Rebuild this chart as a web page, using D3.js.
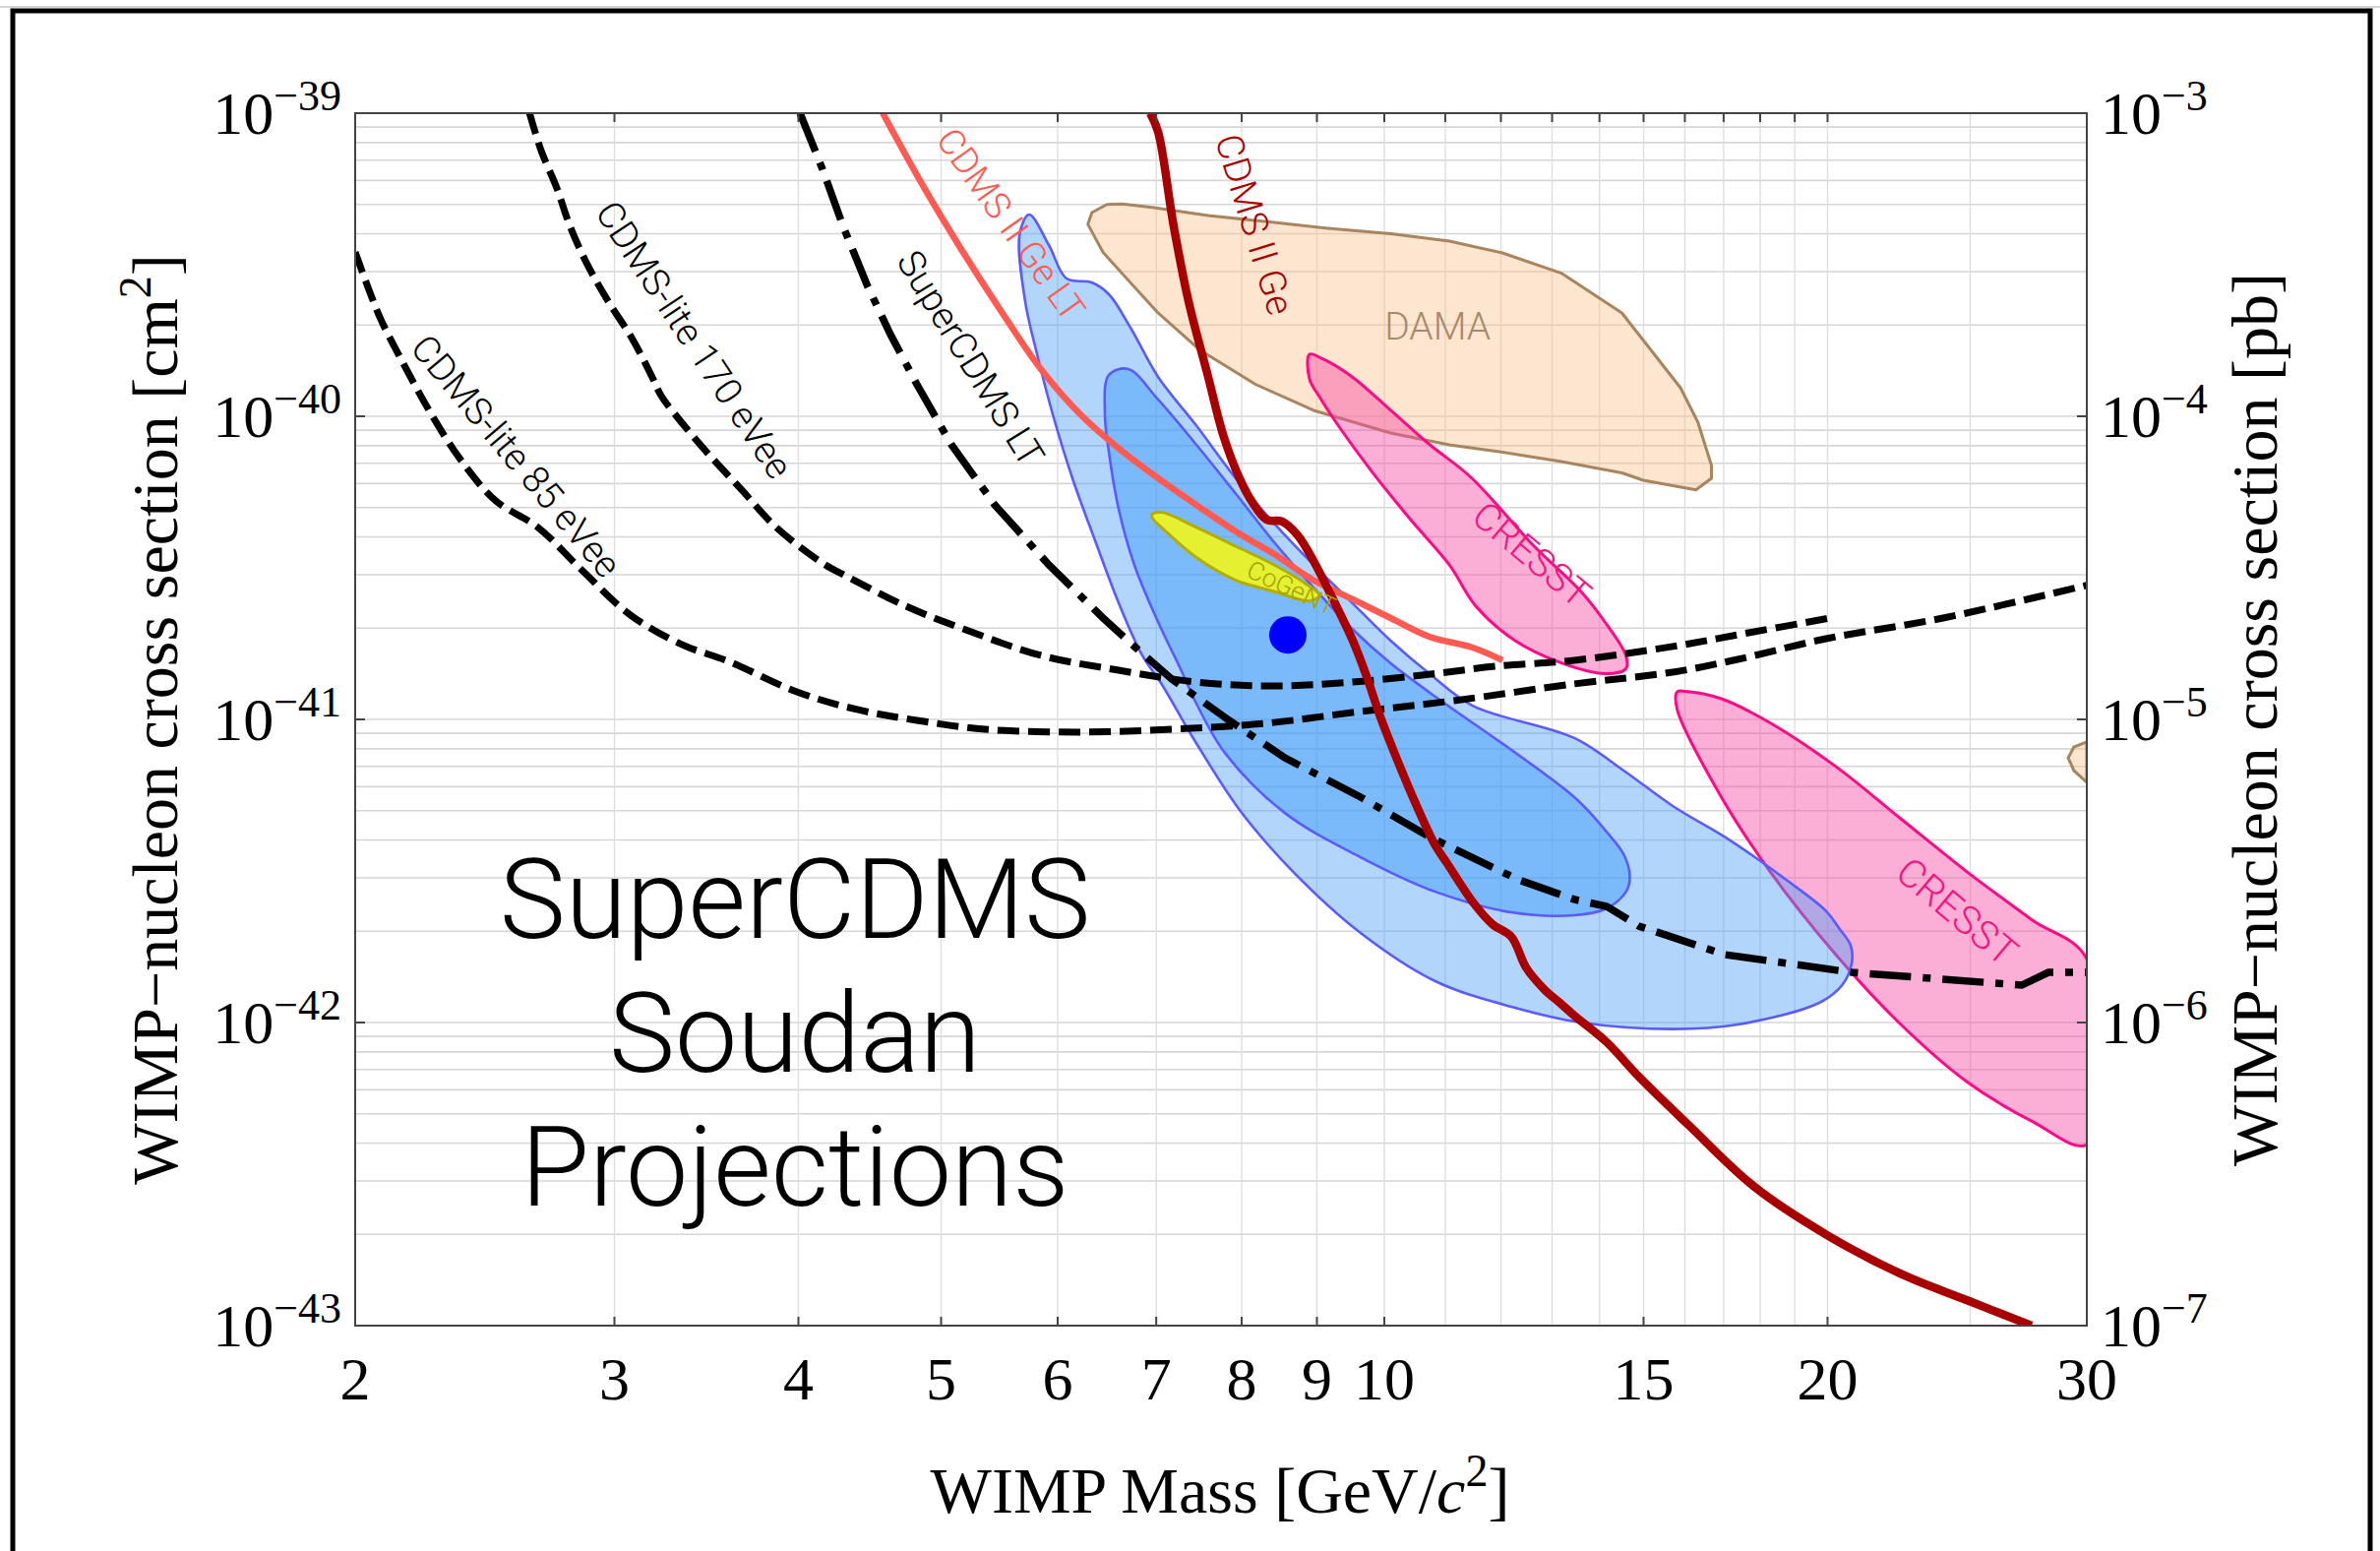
<!DOCTYPE html>
<html><head><meta charset="utf-8">
<script src="https://cdn.jsdelivr.net/npm/d3@7"></script>
<style>body{margin:0;background:#fff}svg{display:block}</style>
</head><body>
<svg id="chart" width="2419" height="1576"></svg>
<script>
// ---------------- data ----------------
const massTickLabels = [2,3,4,5,6,7,8,9,10,15,20,30];
const massTopTicks = [3,4,5,6,7,8,9,10,11,12,13,14,15,16,17,18,19,20];
const massGrid = [3,4,5,6,7,8,9,10,11,12,13,14,15,16,17,18,19,20,25];
const cmExponents = [-43,-42,-41,-40,-39];
const pbExponents = [-7,-6,-5,-4,-3];

// [mass GeV, cross section cm^2]
const cdmsLite85 = [[2.00,3.48e-40],[2.078,2.13e-40],[2.147,1.555e-40],[2.245,1.046e-40],[2.358,7.2e-41],[2.492,5.26e-41],[2.662,4.30e-41],[2.845,3.14e-41],[3.072,2.22e-41],[3.333,1.766e-41],[3.584,1.555e-41],[3.99,1.233e-41],[4.384,1.078e-41],[4.814,9.93e-42],[5.354,9.28e-42],[6.198,9.08e-42],[7.172,9.28e-42],[8.314,9.71e-42],[9.636,1.062e-41],[11.15,1.153e-41],[13.46,1.31e-41],[15.70,1.432e-41],[17.38,1.578e-41],[19.95,1.846e-41],[23.96,2.16e-41],[30,2.77e-41]];
const cdmsLite170 = [[2.627,1e-39],[2.675,7.53e-40],[2.742,5.645e-40],[2.799,4.23e-40],[2.874,3.185e-40],[2.970,2.4e-40],[3.086,1.796e-40],[3.182,1.349e-40],[3.227,1.17e-40],[3.298,1.015e-40],[3.464,7.64e-41],[3.66,5.72e-41],[3.864,4.30e-41],[4.154,3.28e-41],[4.318,2.958e-41],[4.734,2.362e-41],[5.176,1.99e-41],[5.844,1.626e-41],[6.60,1.453e-41],[7.454,1.328e-41],[8.418,1.289e-41],[9.506,1.328e-41],[10.75,1.41e-41],[11.90,1.497e-41],[13.46,1.567e-41],[15.70,1.74e-41],[17.67,1.93e-41],[20.08,2.16e-41]];
const superCdmsLT = [[4.01,1e-39],[4.154,6.53e-40],[4.29,4.23e-40],[4.458,2.68e-40],[4.62,1.86e-40],[4.814,1.275e-40],[5.082,8.05e-41],[5.438,5.1e-41],[5.918,3.235e-41],[6.442,2.16e-41],[6.684,1.832e-41],[7.172,1.358e-41],[7.844,9.93e-42],[8.56,7.47e-42],[9.636,5.54e-42],[10.72,4.11e-42],[12.33,2.96e-42],[13.46,2.546e-42],[14.16,2.416e-42],[14.89,2.08e-42],[17.03,1.675e-42],[20.77,1.464e-42],[27.1,1.328e-42],[28.25,1.464e-42],[30,1.464e-42]];
const cdmsIIGeLT = [[4.564,1e-39],[4.872,5.645e-40],[5.176,3.47e-40],[5.502,2.193e-40],[5.844,1.432e-40],[6.216,1.015e-40],[6.60,7.84e-41],[7.02,6.245e-41],[7.454,5.1e-41],[7.926,4.17e-41],[8.418,3.51e-41],[8.952,2.88e-41],[9.51,2.495e-41],[10.10,2.16e-41],[10.73,1.874e-41],[11.48,1.726e-41],[12.03,1.567e-41]];
const cdmsIIGe = [[6.934,1e-39],[7.02,8.68e-40],[7.194,4.23e-40],[7.362,2.4e-40],[7.592,1.349e-40],[7.78,8.55e-41],[7.974,6.245e-41],[8.124,5.26e-41],[8.318,4.56e-41],[8.522,4.495e-41],[8.734,4.046e-41],[8.952,3.333e-41],[9.23,2.49e-41],[9.52,1.818e-41],[9.742,1.358e-41],[9.924,1.038e-41],[10.22,7.22e-42],[10.52,5.18e-42],[10.83,3.84e-42],[11.03,3.357e-42],[11.49,2.489e-42],[11.84,2.112e-42],[12.20,1.917e-42],[12.48,1.52e-42],[12.85,1.283e-42],[13.16,1.161e-42],[13.46,1.054e-42],[14.16,8.61e-43],[14.9,6.6e-43],[16.09,4.595e-43],[17.83,2.877e-43],[19.95,2.0e-43],[22.43,1.481e-43],[24.86,1.214e-43],[27.52,1.0e-43]];
const dama = [[6.29,4.3e-40],[6.33,4.7e-40],[6.48,5.0e-40],[6.64,5.02e-40],[6.976,4.88e-40],[7.592,4.595e-40],[8.418,4.36e-40],[9.118,4.18e-40],[10.10,4.0e-40],[11.07,3.785e-40],[12.03,3.46e-40],[13.19,2.965e-40],[14.5,2.193e-40],[15.89,1.242e-40],[16.33,9.56e-41],[16.68,6.88e-41],[16.68,6.245e-41],[16.28,5.72e-41],[14.99,6.15e-41],[14.5,6.505e-41],[13.19,7.09e-41],[11.97,7.64e-41],[11.07,8.05e-41],[10.10,8.81e-41],[8.952,1.046e-40],[8.174,1.275e-40],[7.50,1.65e-40],[7.02,2.193e-40],[6.684,2.847e-40],[6.442,3.47e-40]];
const damaHigh = [[30,8.42e-42],[29.4,8.11e-42],[29.14,7.47e-42],[29.4,6.78e-42],[30,6.2e-42]];
const cresstA = [[8.896,1.601e-40],[9.06,1.555e-40],[9.51,1.349e-40],[10.10,1.046e-40],[10.74,8.05e-41],[11.45,6.29e-41],[12.64,3.727e-41],[13.6,2.643e-41],[14.12,2.096e-41],[14.59,1.626e-41],[14.59,1.47e-41],[14.12,1.416e-41],[13.19,1.535e-41],[12.27,1.818e-41],[11.54,2.362e-41],[11.07,3.235e-41],[10.42,4.56e-41],[9.80,6.6e-41],[9.346,9.04e-41],[9.06,1.136e-40],[8.896,1.328e-40]];
const cresstB = [[15.81,1.233e-41],[16.01,1.238e-41],[16.94,1.17e-41],[18.28,9.74e-42],[20.26,6.99e-42],[22.43,4.7e-42],[24.86,3.148e-42],[27.52,2.184e-42],[30,1.62e-42],[30,3.96e-43],[27.52,4.73e-43],[24.86,6.385e-43],[22.43,9.85e-43],[20.26,1.675e-42],[18.28,3.148e-42],[16.94,5.54e-42],[15.81,1.078e-41]];
const fit2sigma = [[5.738,4.63e-40],[5.918,3.672e-40],[6.084,2.847e-40],[6.328,2.764e-40],[6.50,2.527e-40],[6.724,1.96e-40],[7.02,1.349e-40],[7.454,9.31e-41],[7.926,6.245e-41],[8.418,4.43e-41],[8.952,3.235e-41],[9.51,2.424e-41],[10.10,1.818e-41],[10.74,1.41e-41],[11.48,1.11e-41],[13.46,8.68e-42],[14.54,6.78e-42],[15.70,5.18e-42],[17.2,3.97e-42],[18.77,2.945e-42],[19.95,2.335e-42],[20.36,2.05e-42],[20.74,1.792e-42],[20.77,1.566e-42],[20.46,1.328e-42],[19.74,1.161e-42],[17.38,9.85e-43],[15.70,9.52e-43],[13.6,1.0e-42],[12.20,1.127e-42],[10.83,1.369e-42],[9.636,1.975e-42],[8.668,3.148e-42],[7.974,5.03e-42],[7.43,8.55e-42],[7.052,1.318e-41],[6.848,1.626e-41],[6.60,2.424e-41],[6.368,3.84e-41],[6.14,6.245e-41],[5.954,1.015e-40],[5.81,1.601e-40],[5.702,2.4e-40],[5.654,4.0e-40]];
const fit1sigma = [[6.50,1.369e-40],[6.70,1.432e-40],[7.02,1.136e-40],[7.454,8.05e-41],[7.926,5.56e-41],[8.418,3.84e-41],[8.952,2.723e-41],[9.51,1.99e-41],[10.10,1.531e-41],[10.74,1.224e-41],[13.46,5.54e-42],[14.16,4.25e-42],[14.54,3.59e-42],[14.68,3.046e-42],[14.6,2.71e-42],[14.16,2.38e-42],[13.46,2.259e-42],[12.20,2.31e-42],[10.83,2.70e-42],[9.636,3.51e-42],[8.56,4.91e-42],[7.794,7.75e-42],[7.454,1.127e-41],[7.278,1.453e-41],[7.02,2.096e-41],[6.764,3.235e-41],[6.60,4.95e-41],[6.50,7.64e-41],[6.46,1.015e-40]];
const cogent = [[6.956,4.75e-41],[7.064,4.82e-41],[7.454,4.30e-41],[7.926,3.727e-41],[8.418,3.235e-41],[8.842,2.806e-41],[9.034,2.565e-41],[8.896,2.46e-41],[8.418,2.643e-41],[7.926,2.88e-41],[7.454,3.418e-41],[7.106,4.17e-41],[6.956,4.63e-41]];
const bestFit = [[8.6,1.9e-41]];

// label anchors (mass, cross section)
const labels = [
  {id:'l85', text:'CDMS-lite 85 eVee', m:2.574, s:7.41e-41},
  {id:'l170', text:'CDMS-lite 170 eVee', m:3.40, s:1.79e-40},
  {id:'lt', text:'SuperCDMS LT', m:5.24, s:1.556e-40},
  {id:'gelt', text:'CDMS II Ge LT', m:5.58, s:4.3e-40},
  {id:'ge', text:'CDMS II Ge', m:8.17, s:4.3e-40},
  {id:'dama', text:'DAMA', m:10.87, s:1.99e-40},
  {id:'cresstA', text:'CRESST', m:12.6, s:3.51e-41},
  {id:'cresstB', text:'CRESST', m:24.5, s:2.33e-42},
  {id:'cogent', text:'CoGeNT', m:8.65, s:2.72e-41}
];
const bigTitle = ['SuperCDMS','Soudan','Projections'];

// ---------------- styles / layout ----------------
const labelStyle = {
  l85:{angle:50,color:'#000',size:38}, l170:{angle:56.5,color:'#000',size:38},
  lt:{angle:58.5,color:'#000',size:38}, gelt:{angle:54.5,color:'#ff5a52',size:37},
  ge:{angle:73,color:'#a80000',size:38}, dama:{angle:0,color:'#a8896c',size:39},
  cresstA:{angle:40,color:'#f5157f',size:39}, cresstB:{angle:40,color:'#f5157f',size:40},
  cogent:{angle:25,color:'#a6a200',size:26}
};
const SERIF = '"Liberation Serif","Times New Roman",Times,serif';
const SANS = 'Roboto,"Liberation Sans",Arial,sans-serif';
const P = {left:361,right:2121,top:115,bottom:1347};

const svg = d3.select('#chart');
const x = d3.scaleLog().domain([2,30]).range([P.left,P.right]);
const y = d3.scaleLog().domain([1e-43,1e-39]).range([P.bottom,P.top]);
const yR = d3.scaleLog().domain([1e-7,1e-3]).range([P.bottom,P.top]);

svg.append('rect').attr('width',2419).attr('height',1576).attr('fill','#fff');
svg.append('line').attr('x1',0).attr('x2',2419).attr('y1',7).attr('y2',7).attr('stroke','#c8c8c8').attr('stroke-width',1.5);

svg.append('defs').append('clipPath').attr('id','clip').append('rect')
  .attr('x',P.left).attr('y',P.top).attr('width',P.right-P.left).attr('height',P.bottom-P.top);

// grid
const grid = svg.append('g');
const hGrid = [];
for (let e=-43;e<-39;e++) for (let k=1;k<=9;k++) { const v=k*Math.pow(10,e); if (k>1 || e>-43) hGrid.push(v); }
grid.selectAll('line.h').data(hGrid).join('line')
  .attr('x1',P.left).attr('x2',P.right).attr('y1',d=>y(d)).attr('y2',d=>y(d))
  .attr('stroke','#d6d6d6').attr('stroke-width',1.6);
grid.selectAll('line.v').data(massGrid).join('line')
  .attr('y1',P.top).attr('y2',P.bottom).attr('x1',d=>x(d)).attr('x2',d=>x(d))
  .attr('stroke','#dedede').attr('stroke-width',1.4);

const plot = svg.append('g').attr('clip-path','url(#clip)');
const lineSmooth = d3.line().x(d=>x(d[0])).y(d=>y(d[1])).curve(d3.curveCatmullRom.alpha(0.5));
const lineLin = d3.line().x(d=>x(d[0])).y(d=>y(d[1]));
const area = d3.line().x(d=>x(d[0])).y(d=>y(d[1])).curve(d3.curveCatmullRomClosed.alpha(0.5));
const areaLin = d3.line().x(d=>x(d[0])).y(d=>y(d[1])).curve(d3.curveLinearClosed);

// DAMA
plot.append('path').attr('d',areaLin(dama)).attr('fill','#fac08a').attr('fill-opacity',0.4).attr('stroke','#a8855f').attr('stroke-width',3).attr('stroke-linejoin','round');
plot.append('path').attr('d',areaLin(damaHigh)).attr('fill','#fac08a').attr('fill-opacity',0.4).attr('stroke','#a8855f').attr('stroke-width',3);
// CRESST
[cresstA,cresstB].forEach(d=>plot.append('path').attr('d',area(d)).attr('fill','#f64ba4').attr('fill-opacity',0.45).attr('stroke','#ff0a84').attr('stroke-width',3));
// best-fit regions
plot.append('path').attr('d',area(fit2sigma)).attr('fill','#4d9ff5').attr('fill-opacity',0.43).attr('stroke','#5a5aff').attr('stroke-width',2.6).attr('stroke-linejoin','round');
plot.append('path').attr('d',area(fit1sigma)).attr('fill','#389af9').attr('fill-opacity',0.45).attr('stroke','#5a5aff').attr('stroke-width',2.6).attr('stroke-linejoin','round');
// CoGeNT
plot.append('path').attr('d',area(cogent)).attr('fill','#e4f030').attr('stroke','#b2ad00').attr('stroke-width',3);
// projections
[cdmsLite85,cdmsLite170].forEach(d=>plot.append('path').attr('d',lineSmooth(d)).attr('fill','none').attr('stroke','#000').attr('stroke-width',7).attr('stroke-dasharray','22,9'));
plot.append('path').attr('d',lineLin(superCdmsLT)).attr('fill','none').attr('stroke','#000').attr('stroke-width',7.5).attr('stroke-dasharray','42,12,8,12');
// limits
plot.append('path').attr('d',lineSmooth(cdmsIIGeLT)).attr('fill','none').attr('stroke','#ff5a52').attr('stroke-width',6.5).attr('stroke-linejoin','round');
plot.append('path').attr('d',lineSmooth(cdmsIIGe)).attr('fill','none').attr('stroke','#a80000').attr('stroke-width',8.5).attr('stroke-linejoin','round');
// best fit point
plot.selectAll('circle.bf').data(bestFit).join('circle').attr('cx',d=>x(d[0])).attr('cy',d=>y(d[1])).attr('r',19).attr('fill','#0000ff');

// curve labels
labels.forEach(l=>{
  const st = labelStyle[l.id];
  svg.append('text').attr('transform',`translate(${x(l.m)},${y(l.s)}) rotate(${st.angle})`)
    .attr('text-anchor','middle').attr('dy','0.36em')
    .style('font-family',SANS).style('font-weight',300).style('font-size',st.size+'px')
    .attr('fill',st.color).text(l.text);
});

// big title text
bigTitle.forEach((t,i)=>{
  svg.append('text').attr('x',808).attr('y',953+i*136).attr('text-anchor','middle')
    .style('font-family',SANS).style('font-weight',300).style('font-size','113px').attr('fill','#000').text(t);
});

// frame & ticks
svg.append('rect').attr('x',P.left).attr('y',P.top).attr('width',P.right-P.left).attr('height',P.bottom-P.top)
  .attr('fill','none').attr('stroke','#444').attr('stroke-width',2);
const ticks = svg.append('g').attr('stroke','#444').attr('stroke-width',2);
massTickLabels.forEach(m=>ticks.append('line').attr('x1',x(m)).attr('x2',x(m)).attr('y1',P.bottom).attr('y2',P.bottom-9));
massTopTicks.forEach(m=>ticks.append('line').attr('x1',x(m)).attr('x2',x(m)).attr('y1',P.top).attr('y2',P.top+9));
cmExponents.forEach(e=>ticks.append('line').attr('x1',P.left).attr('x2',P.left+10).attr('y1',y(Math.pow(10,e))).attr('y2',y(Math.pow(10,e))));
pbExponents.forEach(e=>ticks.append('line').attr('x1',P.right).attr('x2',P.right-10).attr('y1',yR(Math.pow(10,e))).attr('y2',yR(Math.pow(10,e))));

// tick labels
function powLabel(px,py,exp,anchor){
  const t = svg.append('text').attr('x',px).attr('y',py).attr('text-anchor',anchor)
    .style('font-family',SERIF).style('font-size','62px').attr('fill','#000');
  t.append('tspan').text('10');
  t.append('tspan').attr('dy',-24).style('font-size','44px').text('\u2212'+Math.abs(exp));
}
cmExponents.forEach(e=>powLabel(347, y(Math.pow(10,e))+21, e, 'end'));
pbExponents.forEach(e=>powLabel(2135, yR(Math.pow(10,e))+21, e, 'start'));
svg.selectAll('text.xl').data(massTickLabels).join('text')
  .attr('x',d=>x(d)).attr('y',1422).attr('text-anchor','middle')
  .style('font-family',SERIF).style('font-size','62px').attr('fill','#000').text(d=>d);

// axis titles
const xt = svg.append('text').attr('x',1240).attr('y',1537).attr('text-anchor','middle')
  .style('font-family',SERIF).style('font-size','66px').attr('fill','#000');
xt.append('tspan').text('WIMP Mass [GeV/');
xt.append('tspan').style('font-style','italic').text('c');
xt.append('tspan').attr('dy',-27).style('font-size','46px').text('2');
xt.append('tspan').attr('dy',27).text(']');

function yTitle(px, unit, sup){
  const t = svg.append('text').attr('transform',`translate(${px},731) rotate(-90)`).attr('text-anchor','middle')
    .style('font-family',SERIF).style('font-size','66px').attr('fill','#000');
  t.append('tspan').text('WIMP\u2212nucleon cross section ['+unit);
  if (sup){ t.append('tspan').attr('dy',-27).style('font-size','46px').text(sup); t.append('tspan').attr('dy',27).text(']'); }
  else t.append('tspan').text(']');
}
yTitle(180,'cm','2');
yTitle(2314,'pb',null);

// outer border
svg.append('rect').attr('x',13).attr('y',11).attr('width',2396).attr('height',1600)
  .attr('fill','none').attr('stroke','#000').attr('stroke-width',5);
</script>
</body></html>
